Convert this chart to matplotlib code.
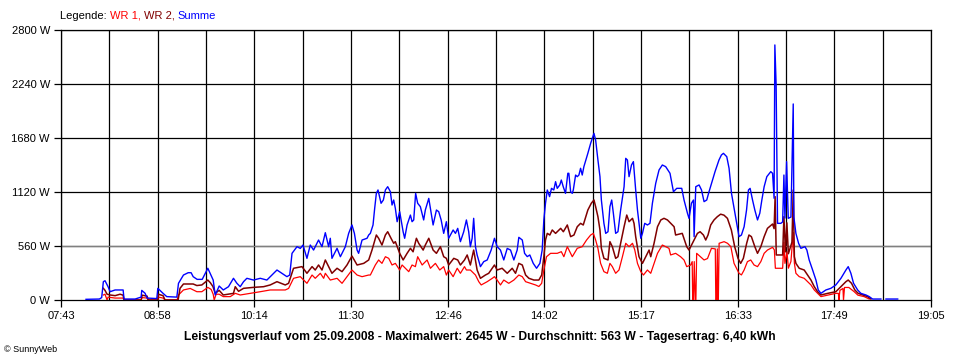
import numpy as np
import matplotlib
matplotlib.use("Agg")
import matplotlib.pyplot as plt

plt.rcParams["font.family"] = ["Liberation Sans", "DejaVu Sans"]

# -----------------------
# Data (time in minutes of day, power in W)
# -----------------------
t_summe = [482.6, 493.1, 494.9, 496.2, 497.5, 499.9, 501.5, 505.4, 511.7, 512.4, 521.1, 525.8, 526.3, 528.9,
           530.5, 538.1, 538.9, 543.0, 545.9, 553.8, 555.1, 559.0, 562.7, 565.0, 566.6, 569.7, 573.7, 578.1,
           580.5, 582.3, 583.9, 587.0, 590.2, 594.3, 598.2, 600.9, 603.5, 606.1, 608.7, 613.9, 619.2, 624.4,
           628.4, 632.3, 636.2, 640.1, 642.3, 644.1, 648.0, 650.6, 652.7, 655.8, 658.4, 661.0, 664.9, 667.6,
           670.2, 672.8, 674.1, 675.4, 679.4, 682.0, 685.9, 688.5, 691.1, 693.0, 695.1, 696.3, 699.0, 702.9,
           704.2, 705.5, 707.6, 708.9, 710.2, 711.5, 713.9, 715.7, 717.3, 719.1, 721.2, 722.5, 723.8, 725.1,
           726.5, 728.5, 731.2, 732.4, 734.3, 736.9, 738.2, 739.5, 741.0, 742.6, 744.7, 747.3, 748.6, 751.3,
           752.6, 754.7, 757.3, 759.1, 761.0, 763.0, 765.1, 766.9, 770.4, 772.2, 774.0, 776.1, 778.7, 780.8,
           782.6, 783.9, 785.3, 786.5, 787.9, 789.2, 791.8, 794.4, 797.1, 800.2, 802.8, 804.9, 807.5, 810.1,
           812.8, 815.4, 818.0, 820.6, 821.9, 824.6, 826.4, 828.5, 830.5, 833.2, 835.8, 838.4, 840.2, 841.5,
           842.8, 844.2, 846.0, 847.5, 849.3, 850.7, 852.0, 854.0, 855.2, 856.7, 858.5, 860.3, 861.1, 862.5,
           863.8, 864.6, 866.4, 867.7, 869.0, 870.3, 871.6, 872.9, 876.0, 878.2, 880.8, 882.1, 883.9, 885.5,
           886.6, 888.6, 890.0, 891.8, 893.3, 894.7, 896.0, 897.8, 899.6, 901.7, 904.4, 905.7, 907.0, 908.3,
           910.2, 911.7, 913.5, 914.9, 917.5, 918.8, 920.6, 922.7, 924.7, 926.6, 929.2, 931.8, 934.4, 937.0,
           940.4, 943.1, 945.7, 949.6, 951.4, 954.1, 955.3, 957.2, 958.8, 959.3, 960.6, 963.2, 965.1, 967.1,
           969.2, 971.0, 973.7, 975.7, 977.0, 978.8, 980.7, 982.3, 984.9, 986.7, 988.6, 990.6, 992.7, 994.5,
           996.4, 998.5, 1000.4, 1001.9, 1003.2, 1005.1, 1006.9, 1009.0, 1010.8, 1012.4, 1014.2, 1016.3,
           1019.4, 1020.8, 1022.0, 1022.6, 1023.6, 1024.7, 1027.3, 1028.7, 1029.7, 1030.5, 1031.8, 1033.1,
           1035.2, 1036.2, 1037.0, 1037.5, 1039.1, 1041.2, 1043.0, 1046.2, 1047.7, 1049.5, 1052.2, 1054.8,
           1056.6, 1058.7, 1062.6, 1066.5, 1070.4, 1074.4, 1078.3, 1080.1, 1082.2, 1084.3, 1087.5, 1090.0,
           1094.0, 1096.6, 1099.2, 1105.7, 1107.0, 1109.7, 1118.9]
summe = [7, 10, 25, 190, 200, 138, 86, 104, 104, 10, 10, 30, 100, 70,
         20, 15, 121, 69, 35, 30, 173, 259, 283, 283, 242, 214, 214, 329,
         259, 207, 52, 145, 104, 138, 225, 173, 138, 190, 225, 207, 225, 207,
         259, 311, 277, 242, 259, 484, 553, 535, 570, 432, 570, 518, 622, 553,
         698, 553, 640, 432, 536, 449, 553, 691, 778, 691, 518, 484, 622, 640,
         674, 691, 778, 951, 1106, 1141, 1003, 1037, 1141, 1175, 1123, 985, 1037, 950,
         812, 916, 708, 640, 778, 881, 812, 830, 1106, 1003, 968, 830, 933, 1054,
         950, 778, 933, 916, 830, 691, 812, 640, 726, 691, 743, 605, 708, 830,
         708, 553, 640, 847, 553, 467, 346, 398, 415, 518, 640, 553, 518, 415,
         535, 518, 415, 518, 650, 622, 484, 450, 467, 380, 329, 380, 518, 830,
         1003, 1141, 1072, 1158, 1141, 1227, 1158, 1193, 1244, 1175, 1106, 1314, 1314, 1123,
         1106, 1141, 1296, 1279, 1296, 1366, 1296, 1383, 1521, 1625, 1728, 1659, 1452, 1279,
         1037, 795, 691, 708, 968, 1037, 899, 691, 708, 933, 1175, 1469, 1452, 1279,
         1400, 1435, 1141, 933, 640, 691, 795, 778, 795, 1003, 1210, 1348, 1400, 1383,
         1314, 1123, 1158, 1158, 1037, 899, 847, 1003, 1037, 657, 1175, 1193, 1141, 1020,
         1037, 1123, 1244, 1331, 1383, 1452, 1504, 1521, 1486, 1366, 1106, 951, 795, 657,
         674, 760, 933, 1141, 1158, 1037, 933, 830, 900, 1037, 1175, 1279,
         1331, 1314, 1055, 2645, 2230, 795, 795, 810, 1296, 850, 1435, 847,
         860, 1504, 2033, 860, 691, 588, 536, 553, 518, 415, 311, 207,
         104, 69, 104, 121, 156, 225, 311, 346, 277, 173, 104, 69,
         52, 35, 10, 10, np.nan, 10, 10]

t_wr2 = [496.2, 497.5, 499.1, 501.5, 505.4, 509.3, 511.7, 512.4, 525.8, 526.6, 530.5, 531.3, 538.9, 539.3,
         543.0, 544.6, 554.8, 556.3, 559.0, 564.3, 566.6, 569.5, 573.4, 578.1, 580.0, 582.1, 583.9, 587.0,
         590.2, 598.2, 599.6, 602.2, 606.1, 613.9, 621.8, 627.0, 632.3, 638.8, 641.4, 645.3, 651.9, 655.8,
         659.8, 662.3, 664.9, 667.6, 670.2, 674.1, 675.4, 679.4, 683.3, 687.2, 691.1, 695.1, 700.3, 704.2,
         706.8, 710.2, 712.0, 714.6, 717.3, 719.1, 721.7, 723.8, 725.1, 728.5, 731.2, 734.3, 736.9, 739.0,
         741.6, 743.4, 746.9, 748.6, 751.3, 754.7, 757.3, 760.4, 763.0, 765.1, 766.9, 770.9, 774.0, 776.1,
         779.3, 781.4, 783.9, 786.5, 789.2, 791.8, 795.7, 798.3, 802.8, 804.9, 808.8, 812.8, 816.7, 819.3,
         821.9, 824.6, 827.2, 829.8, 833.7, 837.6, 839.8, 841.5, 842.8, 844.2, 846.2, 848.1, 850.7, 854.7,
         856.8, 859.9, 862.5, 865.1, 867.7, 870.3, 872.4, 876.0, 878.7, 880.8, 882.1, 883.9, 885.5, 886.6,
         888.6, 891.8, 893.3, 895.2, 897.8, 899.6, 901.7, 904.4, 906.5, 908.3, 911.0, 912.2, 913.5, 916.1,
         918.8, 921.4, 924.0, 925.3, 927.9, 930.6, 933.2, 935.7, 938.4, 941.0, 943.6, 944.8, 950.0, 953.5,
         955.3, 958.0, 959.3, 961.9, 964.0, 966.6, 968.4, 970.2, 972.3, 974.9, 977.5, 980.1, 982.7, 985.4,
         988.5, 991.1, 993.7, 995.8, 997.9, 1000.5, 1002.3, 1004.2, 1006.9, 1009.0, 1011.6, 1014.2, 1016.8,
         1020.8, 1022.0, 1022.8, 1023.7, 1028.7, 1029.7, 1030.9, 1032.0, 1033.2, 1036.0, 1037.0, 1037.9,
         1039.1, 1041.7, 1045.6, 1048.3, 1050.9, 1053.5, 1056.1, 1058.7, 1064.0, 1070.4, 1074.4, 1078.3,
         1080.1, 1082.7, 1085.3, 1087.9, 1091.6, 1095.3, 1097.9]
wr2 = [121, 100, 60, 52, 45, 60, 50, 0, 0, 50, 40, 0, 0, 60,
       45, 0, 0, 121, 166, 166, 166, 150, 156, 207, 180, 140, 69, 100,
       52, 69, 138, 90, 121, 131, 138, 156, 190, 156, 173, 329, 346, 277,
       346, 311, 363, 311, 415, 311, 277, 329, 294, 363, 456, 363, 380, 415,
       518, 674, 640, 570, 674, 708, 640, 588, 605, 484, 415, 484, 536, 500,
       640, 588, 518, 570, 640, 518, 484, 553, 449, 432, 363, 432, 415, 363,
       415, 467, 363, 518, 311, 225, 259, 277, 363, 311, 329, 277, 329, 277,
       380, 363, 259, 225, 207, 207, 259, 449, 622, 691, 674, 726, 691, 743,
       708, 778, 657, 674, 760, 795, 778, 933, 1003, 1037, 968, 864, 726, 536,
       432, 415, 605, 553, 432, 449, 588, 760, 881, 812, 847, 795, 657, 449,
       380, 449, 518, 449, 588, 760, 830, 847, 830, 795, 760, 674, 691, 553,
       518, 588, 622, 691, 708, 674, 622, 674, 778, 830, 864, 890, 880, 847,
       726, 553, 432, 380, 432, 588, 674, 657, 553, 484, 553, 657, 743,
       788, 740, 1072, 467, 467, 864, 500, 800, 480, 600, 1141, 450,
       380, 329, 311, 259, 207, 138, 86, 52, 69, 86, 138, 190,
       207, 173, 104, 69, 52, 35, 10]

t_wr1 = [496.2, 497.5, 499.1, 499.9, 505.4, 511.7, 512.4, 525.8, 526.6, 530.5, 531.3, 538.9, 539.3, 543.0,
         544.6, 554.0, 555.1, 559.0, 564.3, 569.5, 573.4, 578.1, 580.7, 582.3, 583.1, 584.6, 587.0, 590.2,
         595.7, 599.6, 603.5, 611.4, 619.2, 627.0, 638.8, 641.4, 645.3, 650.6, 655.8, 659.8, 662.3, 666.3,
         668.9, 670.2, 674.1, 679.4, 683.3, 687.2, 691.1, 695.1, 699.0, 704.2, 705.5, 709.4, 712.0, 714.6,
         717.3, 719.9, 722.5, 725.1, 728.5, 730.4, 733.0, 735.6, 738.2, 740.8, 742.6, 746.1, 750.0, 752.6,
         756.5, 759.9, 763.0, 765.1, 766.9, 770.4, 773.6, 776.1, 779.3, 780.8, 783.9, 787.9, 790.5, 792.4,
         797.1, 801.1, 802.8, 804.9, 807.5, 810.1, 814.0, 818.0, 821.9, 824.6, 827.2, 831.1, 835.0, 837.6,
         839.8, 841.5, 843.6, 846.8, 852.0, 855.2, 857.2, 859.9, 863.8, 867.7, 871.6, 875.0, 878.2, 880.3,
         882.1, 883.9, 886.0, 888.6, 891.3, 893.3, 895.2, 897.8, 900.4, 903.1, 905.7, 908.3, 911.0, 912.8,
         914.9, 917.5, 919.6, 922.7, 925.3, 927.9, 930.6, 934.4, 937.0, 939.6, 940.9, 944.8, 948.7, 951.4,
         953.5, 956.6, 957.8, 958.2, 958.8, 959.4, 960.2, 960.7, 961.3, 967.1, 969.8, 972.9, 975.9, 976.3,
         976.9, 977.5, 977.9, 978.3, 978.9, 982.8, 985.5, 988.1, 990.6, 994.5, 996.4, 998.5, 1001.1, 1003.7,
         1006.3, 1009.0, 1011.6, 1014.2, 1016.8, 1020.8, 1022.2, 1023.0, 1028.7, 1029.7, 1030.5, 1032.1,
         1033.2, 1035.2, 1037.0, 1037.9, 1039.1, 1041.7, 1045.6, 1048.3, 1050.9, 1053.5, 1056.1, 1058.7,
         1064.0, 1070.4, 1072.4, 1072.8, 1073.6, 1076.0, 1076.4, 1077.2, 1078.3, 1080.6, 1084.8, 1087.7,
         1092.6, 1096.6]
wr1 = [52, 60, 0, 30, 20, 20, 0, 0, 25, 20, 0, 0, 30, 20,
       0, 0, 52, 104, 120, 86, 86, 131, 110, 60, 0, 60, 60, 35,
       35, 69, 52, 69, 86, 104, 104, 120, 225, 242, 173, 259, 225, 277,
       225, 277, 207, 225, 173, 242, 311, 259, 242, 259, 259, 363, 415, 380,
       449, 432, 363, 380, 311, 363, 329, 294, 363, 346, 449, 363, 415, 329,
       380, 311, 346, 259, 311, 242, 329, 277, 346, 311, 311, 259, 190, 156,
       190, 225, 242, 207, 156, 207, 173, 207, 259, 242, 190, 173, 156, 140,
       173, 311, 449, 484, 484, 501, 449, 553, 449, 536, 553, 622, 674, 691,
       622, 536, 380, 294, 277, 380, 346, 277, 311, 449, 588, 553, 588, 518,
       380, 294, 259, 311, 277, 380, 484, 570, 553, 536, 467, 484, 449, 415,
       346, 363, 398, 0, 0, 398, 0, 0, 484, 415, 430, 536, 530, 0,
       0, 530, 0, 0, 588, 605, 588, 553, 380, 277, 260, 311, 398, 415,
       363, 346, 398, 484, 518, 546, 520, 329, 329, 600, 380, 500,
       330, 400, 700, 380, 277, 242, 225, 190, 156, 104, 69, 35,
       50, 69, 69, 0, 100, 120, 0, 130, 130, 130, 86, 50,
       35, 10]

avg_power = 563
y_ticks = [0, 560, 1120, 1680, 2240, 2800]
x_tick_labels = ["07:43", "08:58", "10:14", "11:30", "12:46", "14:02", "15:17", "16:33", "17:49", "19:05"]
t_start, t_end = 463, 1145

# -----------------------
# Plot
# -----------------------
fig = plt.figure(figsize=(9.6, 3.6), dpi=100)
ax = fig.add_axes([61 / 960, 1 - 300 / 360, 870 / 960, 270 / 360])

# grid
for xv in np.linspace(t_start, t_end, 19):
    ax.axvline(xv, color="black", lw=0.9, zorder=1)
for yv in y_ticks[1:]:
    ax.axhline(yv, color="black", lw=0.9, zorder=1)
ax.axhline(avg_power, color="#808080", lw=0.9, zorder=2)

ax.plot(t_wr1, wr1, color="#ff0000", lw=0.9, zorder=3)
ax.plot(t_wr2, wr2, color="#800000", lw=1.1, zorder=4)
ax.plot(t_summe, summe, color="#0000ff", lw=1.0, zorder=5)

ax.set_xlim(t_start, t_end)
ax.set_ylim(0, 2800)
ax.set_xticks(np.linspace(t_start, t_end, len(x_tick_labels)))
ax.set_xticklabels(x_tick_labels)
ax.set_yticks(y_ticks)
ax.set_yticklabels([f"{v} W" for v in y_ticks])
ax.tick_params(direction="out", length=5, width=0.9, labelsize=8, pad=3, color="black")
for s in ax.spines.values():
    s.set_linewidth(0.9)

# legend line
t0 = fig.text(60 / 960, 1 - 16 / 360, "Legende: ", fontsize=8, va="center", ha="left")
t1 = ax.annotate("WR 1, ", xy=(1, 0), xycoords=t0, va="bottom", ha="left", fontsize=8, color="#ff0000")
t2 = ax.annotate("WR 2, ", xy=(1, 0), xycoords=t1, va="bottom", ha="left", fontsize=8, color="#800000")
ax.annotate("Summe", xy=(1, 0), xycoords=t2, va="bottom", ha="left", fontsize=8, color="#0000ff")

fig.text(480 / 960, 1 - 337 / 360,
         "Leistungsverlauf vom 25.09.2008 - Maximalwert: 2645 W - Durchschnitt: 563 W - Tagesertrag: 6,40 kWh",
         fontsize=8.7, fontweight="bold", ha="center", va="center")
fig.text(4 / 960, 1 - 349 / 360, "\u00a9 SunnyWeb", fontsize=6.5, ha="left", va="center")

fig.savefig("out.png", dpi=100)
